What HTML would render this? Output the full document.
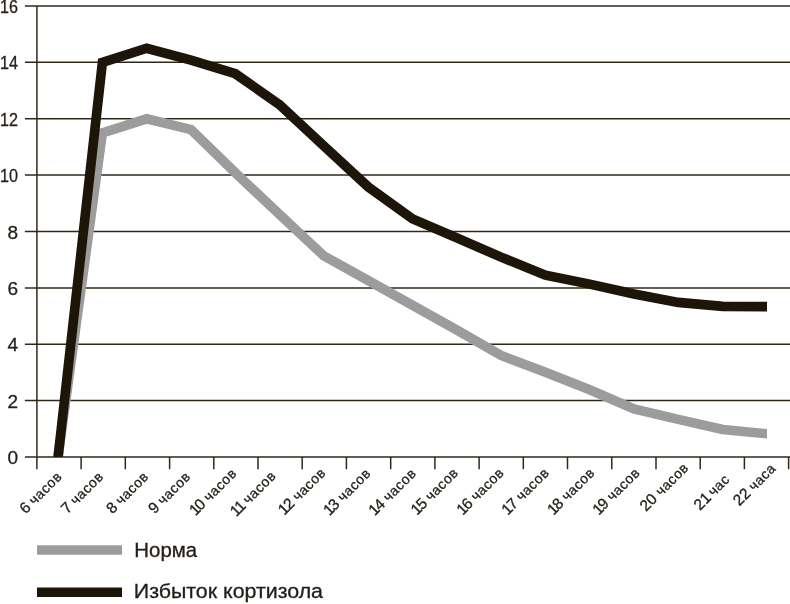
<!DOCTYPE html>
<html lang="ru"><head><meta charset="utf-8"><title>Кортизол</title>
<style>
html,body{margin:0;padding:0;background:#fff;}
body{width:790px;height:604px;overflow:hidden;}
svg{display:block;font-family:"Liberation Sans",sans-serif;}
text{fill:#231e18;}
.yl{font-size:19px;}
.xl{font-size:15.5px;stroke:#231e18;stroke-width:0.3px;}
.xw{font-size:14px;letter-spacing:0.5px;}
.yl,.lg{stroke:#231e18;stroke-width:0.3px;}
.lg{font-size:19.4px;}
</style></head><body>
<svg width="790" height="604" viewBox="0 0 790 604">
<defs><clipPath id="plot"><rect x="0" y="0" width="766.9" height="457.0"/></clipPath></defs>
<rect width="790" height="604" fill="#ffffff"/>
<g stroke="#30271a" stroke-width="1.5" fill="none">
<line x1="24.9" y1="457.0" x2="790" y2="457.0"/>
<line x1="24.9" y1="400.6" x2="790" y2="400.6"/>
<line x1="24.9" y1="344.2" x2="790" y2="344.2"/>
<line x1="24.9" y1="287.9" x2="790" y2="287.9"/>
<line x1="24.9" y1="231.5" x2="790" y2="231.5"/>
<line x1="24.9" y1="175.1" x2="790" y2="175.1"/>
<line x1="24.9" y1="118.7" x2="790" y2="118.7"/>
<line x1="24.9" y1="62.3" x2="790" y2="62.3"/>
<line x1="24.9" y1="6.0" x2="790" y2="6.0"/>
<line x1="36.9" y1="6.0" x2="36.9" y2="469.2"/>
<line x1="81.1" y1="457.0" x2="81.1" y2="469.2"/>
<line x1="125.3" y1="457.0" x2="125.3" y2="469.2"/>
<line x1="169.6" y1="457.0" x2="169.6" y2="469.2"/>
<line x1="213.8" y1="457.0" x2="213.8" y2="469.2"/>
<line x1="258.0" y1="457.0" x2="258.0" y2="469.2"/>
<line x1="302.2" y1="457.0" x2="302.2" y2="469.2"/>
<line x1="346.4" y1="457.0" x2="346.4" y2="469.2"/>
<line x1="390.7" y1="457.0" x2="390.7" y2="469.2"/>
<line x1="434.9" y1="457.0" x2="434.9" y2="469.2"/>
<line x1="479.1" y1="457.0" x2="479.1" y2="469.2"/>
<line x1="523.3" y1="457.0" x2="523.3" y2="469.2"/>
<line x1="567.5" y1="457.0" x2="567.5" y2="469.2"/>
<line x1="611.8" y1="457.0" x2="611.8" y2="469.2"/>
<line x1="656.0" y1="457.0" x2="656.0" y2="469.2"/>
<line x1="700.2" y1="457.0" x2="700.2" y2="469.2"/>
<line x1="744.4" y1="457.0" x2="744.4" y2="469.2"/>
<line x1="788.6" y1="457.0" x2="788.6" y2="469.2"/>
</g>
<g clip-path="url(#plot)" fill="none" stroke-width="9.6" stroke-linejoin="miter" stroke-linecap="butt">
<polyline points="56.7,466.8 102.4,132.8 146.7,118.8 191.0,129.5 235.3,172.8 279.6,214.5 323.9,255.9 368.2,280.5 412.5,305.2 456.8,330.0 501.1,355.4 545.4,372.3 589.7,389.8 634.0,408.9 678.3,419.3 722.6,429.5 771.9,434.2" stroke="#9c9c9c"/>
<polyline points="57.0,466.8 102.4,62.4 146.7,48.3 191.0,60.2 235.3,73.7 279.6,104.7 323.9,146.1 368.2,186.9 412.5,218.8 456.8,237.9 501.1,257.1 545.4,275.1 589.7,284.1 634.0,294.0 678.3,302.4 722.6,306.4 771.9,306.7" stroke="#1e1509"/>
</g>
<text class="yl" text-anchor="end" x="18.1" y="464.0">0</text>
<text class="yl" text-anchor="end" x="18.1" y="407.6">2</text>
<text class="yl" text-anchor="end" x="18.1" y="351.2">4</text>
<text class="yl" text-anchor="end" x="18.1" y="294.9">6</text>
<text class="yl" text-anchor="end" x="18.1" y="238.5">8</text>
<text class="yl" text-anchor="end" x="18.1" y="182.1" textLength="18" lengthAdjust="spacingAndGlyphs">10</text>
<text class="yl" text-anchor="end" x="18.1" y="125.7" textLength="18" lengthAdjust="spacingAndGlyphs">12</text>
<text class="yl" text-anchor="end" x="18.1" y="69.3" textLength="18" lengthAdjust="spacingAndGlyphs">14</text>
<text class="yl" text-anchor="end" x="18.1" y="13.0" textLength="18" lengthAdjust="spacingAndGlyphs">16</text>
<text class="xl" text-anchor="end" transform="translate(62.8,477.4) rotate(-45)">6 <tspan class="xw" dx="-0.6">часов</tspan></text>
<text class="xl" text-anchor="end" transform="translate(104.3,477.4) rotate(-45)">7 <tspan class="xw" dx="-0.6">часов</tspan></text>
<text class="xl" text-anchor="end" transform="translate(149.4,477.4) rotate(-45)">8 <tspan class="xw" dx="-0.6">часов</tspan></text>
<text class="xl" text-anchor="end" transform="translate(191.4,477.4) rotate(-45)">9 <tspan class="xw" dx="-0.6">часов</tspan></text>
<text class="xl" text-anchor="end" transform="translate(237.6,474.2) rotate(-45)" dx="0 -1.3">10 <tspan class="xw" dx="-0.6">часов</tspan></text>
<text class="xl" text-anchor="end" transform="translate(276.8,476.7) rotate(-45)" dx="0 -1.3">11 <tspan class="xw" dx="-1.9">часов</tspan></text>
<text class="xl" text-anchor="end" transform="translate(326.5,473.6) rotate(-45)" dx="0 -1.3">12 <tspan class="xw" dx="-0.6">часов</tspan></text>
<text class="xl" text-anchor="end" transform="translate(371.6,474.2) rotate(-45)" dx="0 -1.3">13 <tspan class="xw" dx="-0.6">часов</tspan></text>
<text class="xl" text-anchor="end" transform="translate(417.0,474.2) rotate(-45)" dx="0 -1.3">14 <tspan class="xw" dx="-0.6">часов</tspan></text>
<text class="xl" text-anchor="end" transform="translate(459.2,473.6) rotate(-45)" dx="0 -1.3">15 <tspan class="xw" dx="-0.6">часов</tspan></text>
<text class="xl" text-anchor="end" transform="translate(504.8,473.6) rotate(-45)" dx="0 -1.3">16 <tspan class="xw" dx="-0.6">часов</tspan></text>
<text class="xl" text-anchor="end" transform="translate(550.0,473.6) rotate(-45)" dx="0 -1.3">17 <tspan class="xw" dx="-0.6">часов</tspan></text>
<text class="xl" text-anchor="end" transform="translate(595.6,473.6) rotate(-45)" dx="0 -1.3">18 <tspan class="xw" dx="-0.6">часов</tspan></text>
<text class="xl" text-anchor="end" transform="translate(640.8,473.6) rotate(-45)" dx="0 -1.3">19 <tspan class="xw" dx="-0.6">часов</tspan></text>
<text class="xl" text-anchor="end" transform="translate(689.4,468.6) rotate(-45)">20 <tspan class="xw" dx="0.0">часов</tspan></text>
<text class="xl" text-anchor="end" transform="translate(730.5,480.3) rotate(-45)">21 <tspan class="xw" dx="-1.9">час</tspan></text>
<text class="xl" text-anchor="end" transform="translate(776.7,469.2) rotate(-45)">22 <tspan class="xw" dx="-0.6">часа</tspan></text>
<line x1="37" y1="550" x2="122" y2="550" stroke="#9c9c9c" stroke-width="9.6"/>
<text class="lg" x="134.3" y="556.9" textLength="62.8" lengthAdjust="spacingAndGlyphs">Норма</text>
<line x1="37" y1="592.3" x2="122" y2="592.3" stroke="#1e1509" stroke-width="9.6"/>
<text class="lg" x="133.8" y="597.5" textLength="189.2" lengthAdjust="spacingAndGlyphs">Избыток кортизола</text>
</svg></body></html>
